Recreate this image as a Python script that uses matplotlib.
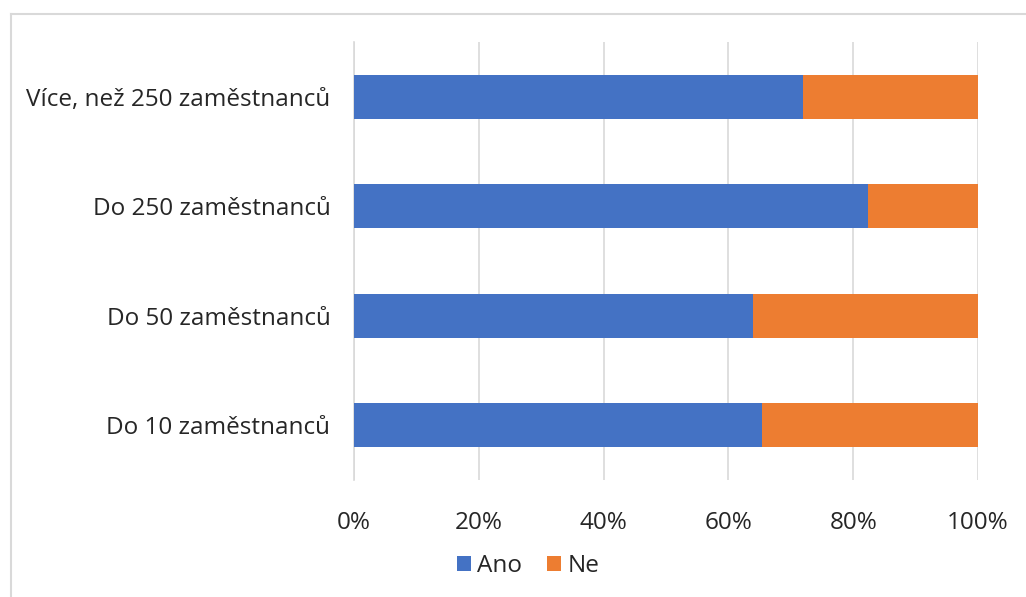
import matplotlib.pyplot as plt
from matplotlib.lines import Line2D
from matplotlib.ticker import PercentFormatter

# data
categories = ["Do 10 zaměstnanců", "Do 50 zaměstnanců", "Do 250 zaměstnanců", "Více, než 250 zaměstnanců"]
ano = [65.4, 63.9, 82.3, 71.9]
ne = [34.6, 36.1, 17.7, 28.1]
series_names = ["Ano", "Ne"]
colors = ["#4472C4", "#ED7D31"]

plt.rcParams['font.family'] = ['Open Sans', 'DejaVu Sans']
text_color = "#262626"

fig = plt.figure(figsize=(10.26, 5.97), dpi=100)
ax = fig.add_axes([354 / 1026, 1 - 480 / 597, 624 / 1026, 438 / 597])

y = range(len(categories))
ax.barh(y, ano, height=0.4, color=colors[0], label=series_names[0], zorder=3)
ax.barh(y, ne, left=ano, height=0.4, color=colors[1], label=series_names[1], zorder=3)

ax.set_xlim(0, 100)
ax.set_ylim(-0.5, len(categories) - 0.5)
ax.set_xticks(range(0, 101, 20))
ax.xaxis.set_major_formatter(PercentFormatter(decimals=0))
ax.set_yticks(list(y))
ax.set_yticklabels(categories)
ax.tick_params(axis='y', length=0, labelsize=17.5, labelcolor=text_color, pad=17)
ax.tick_params(axis='x', length=0, labelsize=17.5, labelcolor=text_color, pad=22)

ax.grid(axis='x', color="#D9D9D9", linewidth=1.2, zorder=0)
for side in ['top', 'right', 'bottom']:
    ax.spines[side].set_visible(False)
ax.spines['left'].set_color("#D9D9D9")
ax.spines['left'].set_linewidth(1.2)

leg = fig.legend(loc='center', bbox_to_anchor=(528 / 1026, 1 - 566 / 597), ncol=2,
                 frameon=False, fontsize=17.5, handlelength=0.6, handleheight=0.6,
                 handletextpad=0.25, columnspacing=1.0)
for t in leg.get_texts():
    t.set_color(text_color)

# chart frame (top and left edges only are visible)
fx = 10.5 / 1026
fy = 1 - 13.5 / 597
fig.add_artist(Line2D([fx, 1.0], [fy, fy], transform=fig.transFigure, color="#D9D9D9", linewidth=1.5))
fig.add_artist(Line2D([fx, fx], [0.0, fy], transform=fig.transFigure, color="#D9D9D9", linewidth=1.5))

fig.savefig("out.png", dpi=100)
